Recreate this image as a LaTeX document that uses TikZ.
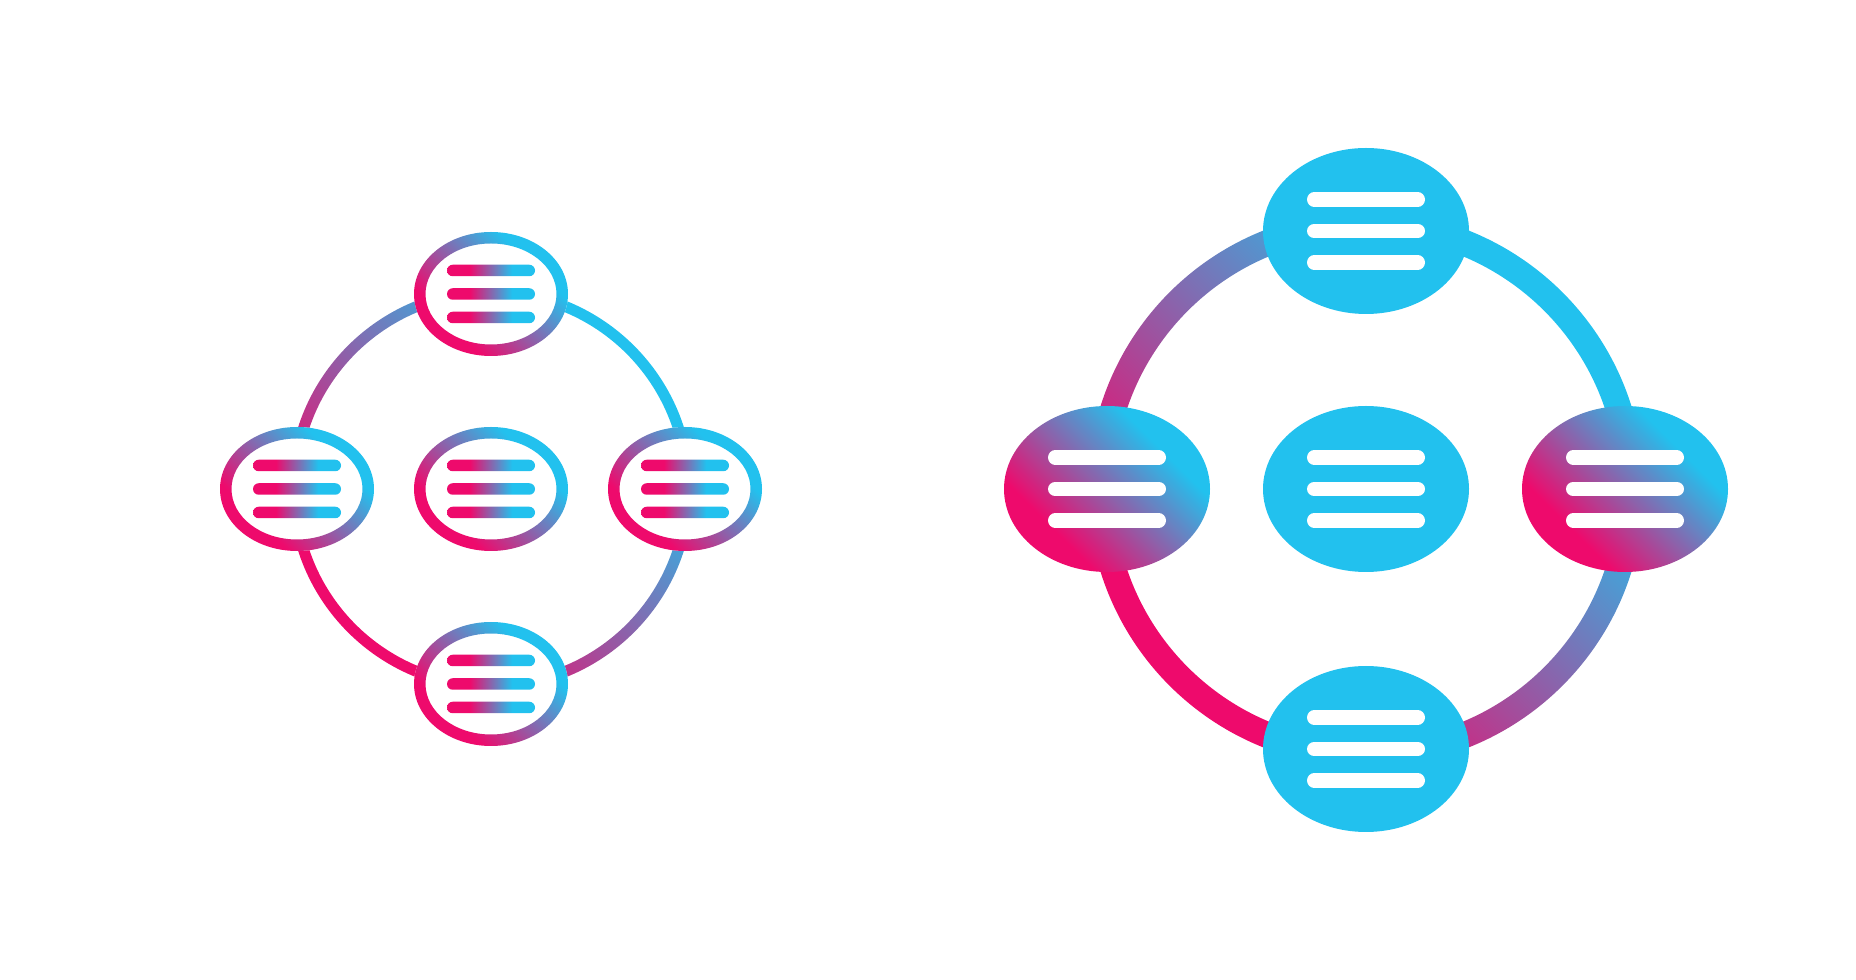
\documentclass[tikz,border=0pt]{standalone}
\definecolor{iconpink}{RGB}{238,10,108}
\definecolor{iconcyan}{RGB}{34,193,238}
\pgfdeclarehorizontalshading{barshade}{100bp}{color(0bp)=(iconpink); color(38bp)=(iconpink); color(62bp)=(iconcyan); color(100bp)=(iconcyan)}
\pgfdeclareverticalshading{diagshade}{100bp}{color(0bp)=(iconpink); color(32bp)=(iconpink); color(68bp)=(iconcyan); color(100bp)=(iconcyan)}
\begin{document}
\begin{tikzpicture}[x=1pt,y=1pt,
  barline/.style={shading=barshade,rounded corners=5.75pt},
  ringshade/.style={shading=diagshade,shading angle=-45,even odd rule},
  blobshade/.style={shading=diagshade,shading angle=-45},
  whitebar/.style={white,line width=14.5pt,line cap=round}]
\useasboundingbox (0,0) rectangle (1856,980);
% left icon, outlined
\coordinate (lc) at (491,491);
\coordinate (lt) at (491,686);
\coordinate (lb) at (491,296);
\coordinate (ll) at (297,491);
\coordinate (lr) at (685,491);
\shade[ringshade] (lc) circle [radius=202.5] (lc) circle [radius=191.5];
\fill[white] (lt) ellipse [x radius=77,y radius=62];
\shade[ringshade] (lt) ellipse [x radius=77,y radius=62] (lt) ellipse [x radius=65.5,y radius=50.5];
\shade[barline] ([shift={(-44,17.75)}]lt) rectangle +(88,11.5);
\shade[barline] ([shift={(-44,-5.75)}]lt) rectangle +(88,11.5);
\shade[barline] ([shift={(-44,-29.25)}]lt) rectangle +(88,11.5);
\fill[white] (lb) ellipse [x radius=77,y radius=62];
\shade[ringshade] (lb) ellipse [x radius=77,y radius=62] (lb) ellipse [x radius=65.5,y radius=50.5];
\shade[barline] ([shift={(-44,17.75)}]lb) rectangle +(88,11.5);
\shade[barline] ([shift={(-44,-5.75)}]lb) rectangle +(88,11.5);
\shade[barline] ([shift={(-44,-29.25)}]lb) rectangle +(88,11.5);
\fill[white] (ll) ellipse [x radius=77,y radius=62];
\shade[ringshade] (ll) ellipse [x radius=77,y radius=62] (ll) ellipse [x radius=65.5,y radius=50.5];
\shade[barline] ([shift={(-44,17.75)}]ll) rectangle +(88,11.5);
\shade[barline] ([shift={(-44,-5.75)}]ll) rectangle +(88,11.5);
\shade[barline] ([shift={(-44,-29.25)}]ll) rectangle +(88,11.5);
\fill[white] (lr) ellipse [x radius=77,y radius=62];
\shade[ringshade] (lr) ellipse [x radius=77,y radius=62] (lr) ellipse [x radius=65.5,y radius=50.5];
\shade[barline] ([shift={(-44,17.75)}]lr) rectangle +(88,11.5);
\shade[barline] ([shift={(-44,-5.75)}]lr) rectangle +(88,11.5);
\shade[barline] ([shift={(-44,-29.25)}]lr) rectangle +(88,11.5);
\fill[white] (lc) ellipse [x radius=77,y radius=62];
\shade[ringshade] (lc) ellipse [x radius=77,y radius=62] (lc) ellipse [x radius=65.5,y radius=50.5];
\shade[barline] ([shift={(-44,17.75)}]lc) rectangle +(88,11.5);
\shade[barline] ([shift={(-44,-5.75)}]lc) rectangle +(88,11.5);
\shade[barline] ([shift={(-44,-29.25)}]lc) rectangle +(88,11.5);
% right icon, filled
\coordinate (rc) at (1366,491);
\coordinate (rt) at (1366,749);
\coordinate (rb) at (1366,231);
\coordinate (rl) at (1107,491);
\coordinate (rr) at (1625,491);
\shade[ringshade] (rc) circle [radius=278] (rc) circle [radius=252];
\fill[iconcyan] (rt) ellipse [x radius=103,y radius=83];
\fill[iconcyan] (rb) ellipse [x radius=103,y radius=83];
\fill[iconcyan] (rc) ellipse [x radius=103,y radius=83];
\shade[blobshade] (rl) ellipse [x radius=103,y radius=83];
\shade[blobshade] (rr) ellipse [x radius=103,y radius=83];
\draw[whitebar] ([shift={(-51.75,31.5)}]rt) -- +(103.5,0);
\draw[whitebar] ([shift={(-51.75,0)}]rt) -- +(103.5,0);
\draw[whitebar] ([shift={(-51.75,-31.5)}]rt) -- +(103.5,0);
\draw[whitebar] ([shift={(-51.75,31.5)}]rb) -- +(103.5,0);
\draw[whitebar] ([shift={(-51.75,0)}]rb) -- +(103.5,0);
\draw[whitebar] ([shift={(-51.75,-31.5)}]rb) -- +(103.5,0);
\draw[whitebar] ([shift={(-51.75,31.5)}]rc) -- +(103.5,0);
\draw[whitebar] ([shift={(-51.75,0)}]rc) -- +(103.5,0);
\draw[whitebar] ([shift={(-51.75,-31.5)}]rc) -- +(103.5,0);
\draw[whitebar] ([shift={(-51.75,31.5)}]rl) -- +(103.5,0);
\draw[whitebar] ([shift={(-51.75,0)}]rl) -- +(103.5,0);
\draw[whitebar] ([shift={(-51.75,-31.5)}]rl) -- +(103.5,0);
\draw[whitebar] ([shift={(-51.75,31.5)}]rr) -- +(103.5,0);
\draw[whitebar] ([shift={(-51.75,0)}]rr) -- +(103.5,0);
\draw[whitebar] ([shift={(-51.75,-31.5)}]rr) -- +(103.5,0);
\end{tikzpicture}
\end{document}
